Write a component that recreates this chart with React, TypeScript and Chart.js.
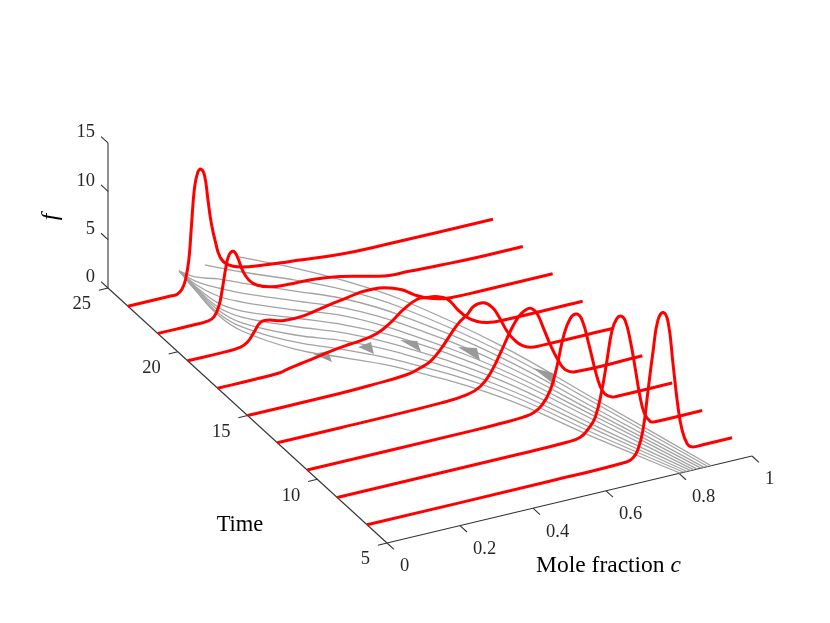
import React, { useEffect, useRef } from "react";
import { Chart, registerables } from "chart.js";

Chart.register(...registerables);

// ---- data ----
const cTicks = [0, 0.2, 0.4, 0.6, 0.8, 1];
const cTickLabels = ["0", "0.2", "0.4", "0.6", "0.8", "1"];
const tTicks = [5, 10, 15, 20, 25];
const tTickLabels = ["5", "10", "15", "20", "25"];
const fTicks = [0, 5, 10, 15];
const fTickLabels = ["0", "5", "10", "15"];

const redTimes = [6.43, 8.57, 10.72, 12.86, 15, 17.14, 19.29, 21.43, 23.57];

const c1 = [0, 0.5, 0.711, 0.729, 0.742, 0.756, 0.77, 0.784, 0.797, 0.812, 0.825, 0.838, 0.852, 0.863, 0.877, 0.89, 0.92, 1];
const f1 = [0, 0, 0.1, 0.37, 1.08, 3.0, 7.0, 11.0, 14.0, 14.65, 13.5, 9.2, 4.5, 2.06, 0.49, 0.05, 0, 0];
const c2 = [0, 0.5, 0.629, 0.666, 0.688, 0.707, 0.725, 0.739, 0.753, 0.766, 0.778, 0.789, 0.803, 0.816, 0.83, 0.842, 0.858, 0.871, 1];
const f2 = [0, 0, 0.05, 0.24, 0.91, 1.94, 4.54, 7.5, 10.5, 11.6, 11.75, 11.2, 9.0, 6.13, 2.9, 1.08, 0.14, 0, 0];
const c3 = [0, 0.456, 0.529, 0.592, 0.62, 0.643, 0.666, 0.684, 0.702, 0.721, 0.739, 0.753, 0.771, 0.789, 0.803, 0.816, 0.835, 0.849, 1];
const f3 = [0, 0, 0.05, 0.15, 0.35, 0.93, 2.28, 4.53, 7.47, 9.2, 9.48, 8.74, 6.17, 3.24, 1.4, 0.52, 0.05, 0, 0];
const c4 = [0, 0.173, 0.447, 0.52, 0.556, 0.584, 0.611, 0.638, 0.661, 0.679, 0.695, 0.711, 0.729, 0.748, 0.771, 0.789, 0.816, 1];
const f4 = [0, 0, 0.08, 0.29, 0.82, 1.96, 3.77, 5.77, 7.1, 7.6, 7.65, 7.0, 5.3, 3.4, 1.5, 0.45, 0, 0];
const c5 = [0, 0.255, 0.346, 0.4375, 0.474, 0.501, 0.529, 0.556, 0.579, 0.602, 0.62, 0.647, 0.67, 0.688, 0.711, 0.73, 0.752, 0.775, 0.803, 1];
const f5 = [0, 0, 0.1, 0.3, 0.68, 1.1, 2.07, 3.37, 4.37, 5.03, 5.72, 5.83, 5.17, 4.08, 2.32, 1.29, 0.48, 0.09, 0, 0];
const c6 = [0, 0.1, 0.173, 0.19, 0.236, 0.319, 0.364, 0.392, 0.4375, 0.474, 0.51, 0.547, 0.575, 0.597, 0.629, 0.657, 0.684, 0.711, 0.739, 0.775, 1];
const f6 = [0, 0, 0.07, 0.25, 0.54, 1.1, 1.3, 1.4, 1.75, 2.53, 3.58, 4.28, 4.2, 4.11, 3.55, 2.25, 1.16, 0.5, 0.15, 0, 0];
const c7 = [0, 0.1, 0.145, 0.164, 0.182, 0.2, 0.218, 0.264, 0.319, 0.383, 0.4375, 0.474, 0.505, 0.538, 0.584, 0.62, 0.652, 0.693, 0.72, 0.8, 1];
const f7 = [0, 0, 0.11, 0.46, 1.33, 2.2, 2.24, 1.79, 1.81, 2.27, 2.6, 2.84, 2.85, 2.71, 2.12, 1.27, 0.65, 0.18, 0.04, 0, 0];
const c8 = [0, 0.1, 0.136, 0.154, 0.168, 0.177, 0.186, 0.195, 0.207, 0.218, 0.232, 0.25, 0.273, 0.31, 0.355, 0.428, 0.5, 0.593, 0.638, 0.684, 0.776, 0.877, 1];
const f8 = [0, 0, 0.05, 0.34, 1.42, 3.06, 5.05, 6.34, 6.65, 5.97, 4.46, 3.26, 2.53, 2.04, 1.87, 1.77, 1.4, 0.59, 0.29, 0.25, 0.1, 0, 0];
const c9 = [0, 0.12, 0.135, 0.148, 0.158, 0.167, 0.174, 0.182, 0.191, 0.2, 0.21, 0.219, 0.228, 0.24, 0.253, 0.272, 0.308, 0.372, 0.436, 0.582, 0.7, 1];
const f9 = [0, 0, 0.03, 0.42, 1.37, 3.36, 6.74, 10.47, 12.1, 12.37, 11.6, 9.1, 6.6, 4.44, 2.76, 1.89, 1.29, 0.92, 0.66, 0.14, 0.03, 0];

const redC = [c1, c2, c3, c4, c5, c6, c7, c8, c9];
const redF = [f1, f2, f3, f4, f5, f6, f7, f8, f9];

// characteristics in the (c, t) plane
const gc1 = [0.358, 0.454, 0.532, 0.608, 0.716, 0.798, 0.888];
const gt1 = [25, 23.47, 21.92, 19.99, 15.64, 10.61, 5];
const gc2 = [0.265, 0.329, 0.4255, 0.51, 0.589, 0.702, 0.789, 0.879];
const gt2 = [25, 24.01, 22.72, 21.36, 19.49, 15.27, 10.36, 5];
const gc3 = [0.195, 0.2153, 0.2606, 0.303, 0.399, 0.489, 0.57, 0.688, 0.777, 0.869];
const gt3 = [25, 24.4, 23.93, 23.32, 22.04, 20.8, 18.99, 14.89, 10.05, 5];
const gc4 = [0.195, 0.2058, 0.239, 0.279, 0.376, 0.4675, 0.551, 0.6735, 0.767, 0.86];
const gt4 = [25, 24.15, 23.37, 22.7, 21.42, 20.24, 18.49, 14.52, 9.8, 5];
const gc5 = [0.195, 0.1987, 0.22, 0.258, 0.354, 0.4485, 0.532, 0.659, 0.758, 0.85];
const gt5 = [25, 23.96, 22.87, 22.14, 20.86, 19.74, 18.0, 14.15, 9.55, 5];
const gc6 = [0.195, 0.194, 0.2035, 0.2366, 0.335, 0.427, 0.516, 0.647, 0.748, 0.841];
const gt6 = [25, 23.84, 22.44, 21.58, 20.36, 19.18, 17.56, 13.84, 9.31, 5];
const gc7 = [0.195, 0.1916, 0.194, 0.222, 0.315, 0.408, 0.497, 0.633, 0.736, 0.832];
const gt7 = [25, 23.77, 22.19, 21.21, 19.83, 18.68, 17.06, 13.46, 8.99, 5];
const gc8 = [0.195, 0.1892, 0.187, 0.208, 0.295, 0.389, 0.48, 0.619, 0.727, 0.822];
const gt8 = [25, 23.71, 22.0, 20.84, 19.3, 18.19, 16.63, 13.09, 8.75, 5];
const gc9 = [0.195, 0.1868, 0.18, 0.1985, 0.278, 0.368, 0.461, 0.607, 0.717, 0.813];
const gt9 = [25, 23.65, 21.81, 20.59, 18.87, 17.63, 16.13, 12.78, 8.5, 5];
const gc10 = [0.195, 0.1844, 0.175, 0.189, 0.261, 0.349, 0.444, 0.593, 0.708, 0.803];
const gt10 = [25, 23.59, 21.69, 20.34, 18.43, 17.13, 15.7, 12.41, 8.25, 5];

const greyC = [gc1, gc2, gc3, gc4, gc5, gc6, gc7, gc8, gc9, gc10];
const greyT = [gt1, gt2, gt3, gt4, gt5, gt6, gt7, gt8, gt9, gt10];

// arrowheads on the characteristics
const arrowC = [
  [0.289, 0.328, 0.311],
  [0.403, 0.443, 0.421],
  [0.511, 0.546, 0.528],
  [0.62, 0.659, 0.635],
  [0.7335, 0.765, 0.7405],
];
const arrowT = [
  [17.86, 17.82, 17.08],
  [17.62, 17.74, 16.95],
  [17.44, 17.12, 16.38],
  [16.14, 15.8, 14.94],
  [13.72, 13.12, 12.26],
];

// ---- the fixed oblique view of the 3-D axes ----
const ORIGIN_X = 387;
const ORIGIN_Y = 543;
const C_DX = 365;
const C_DY = -87;
const T_DX = -13.95;
const T_DY = -12.75;
const F_DY = -9.67;
const T0 = 5;
const T1 = 25;
const F1 = 15;

const project = (c: number, t: number, f: number) => ({
  x: ORIGIN_X + C_DX * c + T_DX * (t - T0),
  y: ORIGIN_Y + C_DY * c + T_DY * (t - T0) + F_DY * f,
});

const FONT_TICK = '18.5px "Liberation Serif"';
const FONT_TIME = '22.5px "Liberation Serif"';
const FONT_LABEL = '23.5px "Liberation Serif"';
const FONT_LABEL_IT = 'italic 23.5px "Liberation Serif"';

const textPlugin = {
  id: "axisText",
  afterDraw(chart: any) {
    const ctx = chart.ctx;
    const X = chart.scales.x;
    const Y = chart.scales.y;
    ctx.save();
    ctx.textBaseline = "middle";
    ctx.fillStyle = "#262626";
    ctx.font = FONT_TICK;
    ctx.textAlign = "left";
    cTicks.forEach((c, i) => {
      const p = project(c, T0, 0);
      ctx.fillText(cTickLabels[i], X.getPixelForValue(p.x) + 13, Y.getPixelForValue(p.y) + 23.5);
    });
    ctx.textAlign = "right";
    tTicks.forEach((t, i) => {
      const p = project(0, t, 0);
      ctx.fillText(tTickLabels[i], X.getPixelForValue(p.x) - 17, Y.getPixelForValue(p.y) + 16.5);
    });
    fTicks.forEach((f, i) => {
      const p = project(0, T1, f);
      ctx.fillText(fTickLabels[i], X.getPixelForValue(p.x) - 13, Y.getPixelForValue(p.y) - 10.5);
    });

    ctx.fillStyle = "#000";
    ctx.font = FONT_TIME;
    ctx.textAlign = "center";
    ctx.fillText("Time", 240, 525);

    ctx.font = FONT_LABEL;
    const mole = "Mole fraction ";
    const w1 = ctx.measureText(mole).width;
    ctx.font = FONT_LABEL_IT;
    const w2 = ctx.measureText("c").width;
    const left = 608.5 - (w1 + w2) / 2;
    ctx.textAlign = "left";
    ctx.font = FONT_LABEL;
    ctx.fillText(mole, left, 566);
    ctx.font = FONT_LABEL_IT;
    ctx.fillText("c", left + w1, 566);

    ctx.translate(51, 217);
    ctx.rotate(-Math.PI / 2);
    ctx.textAlign = "center";
    ctx.fillText("f", 0, 0);
    ctx.restore();
  },
};

const axisSegment = (pts: { x: number; y: number }[]) => ({
  data: pts,
  showLine: true,
  borderColor: "#333333",
  borderWidth: 1.1,
  pointRadius: 0,
  tension: 0,
  order: 3,
});

export default function App() {
  const ref = useRef<HTMLCanvasElement>(null);
  useEffect(() => {
    if (!ref.current) return;
    const datasets: any[] = [];

    redC.forEach((cs, i) => {
      datasets.push({
        data: cs.map((c, j) => project(c, redTimes[i], redF[i][j])),
        showLine: true,
        borderColor: "#ff0000",
        borderWidth: 3,
        borderJoinStyle: "round",
        pointRadius: 0,
        tension: 0.45,
        order: 0,
      });
    });

    greyC.forEach((cs, i) => {
      datasets.push({
        data: cs.map((c, j) => project(c, greyT[i][j], 0)),
        showLine: true,
        borderColor: "#a3a3a3",
        borderWidth: 1.3,
        pointRadius: 0,
        tension: 0.4,
        order: 2,
      });
    });

    arrowC.forEach((cs, i) => {
      datasets.push({
        data: cs.map((c, j) => project(c, arrowT[i][j], 0)),
        showLine: true,
        borderWidth: 0,
        borderColor: "#999999",
        backgroundColor: "#999999",
        fill: "shape",
        pointRadius: 0,
        tension: 0,
        order: 1,
      });
    });

    datasets.push(axisSegment([project(0, T0, 0), project(1, T0, 0)]));
    datasets.push(axisSegment([project(0, T0, 0), project(0, T1, 0)]));
    datasets.push(axisSegment([project(0, T1, 0), project(0, T1, F1)]));
    cTicks.forEach((c) => datasets.push(axisSegment([project(c, T0, 0), project(c, T0 - 0.5, 0)])));
    tTicks.forEach((t) => datasets.push(axisSegment([project(0, t, 0), project(-0.025, t, 0)])));
    fTicks.forEach((f) => datasets.push(axisSegment([project(0, T1, f), project(0, T1 + 0.5, f)])));

    const chart = new Chart(ref.current, {
      type: "scatter",
      data: { datasets },
      plugins: [textPlugin],
      options: {
        animation: false,
        responsive: false,
        events: [],
        layout: { padding: 0 },
        plugins: { legend: { display: false }, tooltip: { enabled: false } },
        scales: {
          x: { type: "linear", min: 0, max: 830, display: false },
          y: { type: "linear", min: 0, max: 623, reverse: true, display: false },
        },
      },
    } as any);
    return () => chart.destroy();
  }, []);

  return (
    <canvas
      ref={ref}
      width={830}
      height={623}
      style={{ position: "absolute", left: 0, top: 0, display: "block", background: "#fff" }}
    />
  );
}
